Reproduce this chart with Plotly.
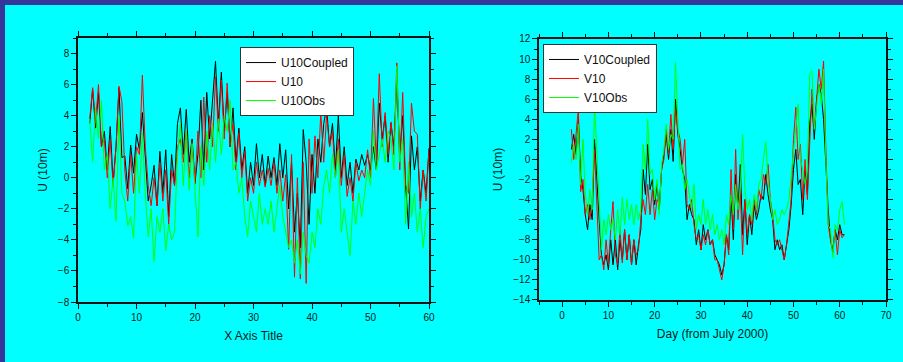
import plotly.graph_objects as go

# ---- data: left panel (U component), two samples per day ----
u_days = [2 + 0.5 * i for i in range(117)]  # 2 .. 60
u10_coupled = [3.5, 5.7, 3.2, 5.5, 2.0, 3.0, 0.5, 3.3, -0.3, 2.0, 5.8, 1.3, 1.4, -0.7, 2.1, 0.3,
               2.8, 1.8, 4.2, 1.0, -1.5, -0.5, 0.8, -1.8, 1.7, -1.0, 1.8, -2.5, 1.5, -0.5, 3.5, 4.5,
               1.5, 4.4, 1.0, 2.5, -0.3, 1.5, 5.0, 0.5, 5.5, 2.5, 5.0, 7.5, 3.5, 6.8, 3.0, 5.5,
               2.0, 4.5, 1.0, 3.2, 0.5, 2.0, -1.0, 1.0, -0.5, 2.2, 0.0, 1.5, -0.5, 1.4, 0.0, 1.3,
               -0.5, 2.2, 0.0, 1.8, -2.0, 1.0, -3.5, -1.0, -4.5, 3.1, 1.0, -3.0, 1.5, -1.0, 2.5, 1.0,
               3.5, 4.5, 2.0, 3.5, 0.5, 4.0, 0.0, 2.0, -0.5, 1.0, -1.0, 1.2, 0.5, 1.5, 0.8, 1.5,
               0.5, 2.0, 0.5, 4.8, 2.5, 4.0, 1.0, 3.5, 2.0, 6.2, 1.5, 4.0, -0.5, -3.3, 2.7, 0.5,
               2.0, -1.5, 0.5, -1.0, 1.9]
u10_model = [3.8, 5.8, 3.5, 6.0, 2.0, 2.5, 0.0, 2.5, -0.5, 2.0, 5.9, 4.9, 0.5, -1.5, 1.5, -1.0,
             2.0, 1.5, 6.6, 2.0, -0.5, -1.8, 0.0, -1.8, 1.0, -1.5, 0.5, -3.0, 0.5, -0.5, 2.0, 2.5,
             1.0, 3.0, 0.0, 2.3, -0.4, 3.0, 0.0, 5.2, 1.0, 4.0, 2.0, 6.5, 3.0, 6.3, 2.5, 6.1,
             2.0, 3.5, 0.5, 2.9, 0.0, 1.7, -1.5, 0.0, -1.0, 1.0, -0.5, 0.5, -0.6, 0.6, -0.5, 1.0,
             -1.0, 0.5, -1.5, 0.2, -4.6, 1.5, -6.4, 0.0, -6.5, 1.0, -6.8, 2.5, -1.0, 2.7, 0.0, 4.2,
             1.0, 4.0, 2.0, 3.0, 0.0, 2.5, -0.5, 1.5, -1.2, 0.0, -1.5, 1.0, -0.2, 0.5, 0.0, 1.8,
             0.0, 5.1, 1.0, 6.7, 2.0, 4.2, 1.5, 3.6, 1.5, 7.4, 0.5, 5.5, -0.5, -1.0, 4.8, 3.0,
             2.8, -2.0, 0.5, -1.5, 1.9]
u10_obs = [3.8, 1.0, 4.5, 2.5, 5.0, 0.5, 1.5, -2.0, 0.0, -2.8, 4.0, -1.0, -1.5, -3.1, -2.5, -3.9,
           1.5, -1.0, 2.9, -1.0, -3.8, -2.0, -5.4, -2.5, -3.5, -2.0, -4.7, -3.0, -4.0, -3.5, 1.5, 3.5,
           -0.5, 3.0, -0.8, 2.2, -0.8, -3.8, 2.0, -0.5, 3.0, 0.5, 3.5, 1.0, 3.8, 1.5, 4.0, 3.0,
           5.0, 0.5, 1.0, -1.0, 0.0, -2.5, -3.8, -1.5, -2.5, -3.5, -1.0, -3.0, -2.0, -3.0, -1.5, -3.5,
           -2.0, -0.5, -2.5, -3.5, -4.5, -4.0, -5.5, -4.0, -6.2, -3.5, -5.0, -5.5, -3.5, -4.5, -2.0, -3.0,
           -0.5, 0.5, -1.0, 1.5, 0.0, 1.8, -3.5, -2.0, -3.5, -5.0, -1.5, -3.0, -1.0, -2.5, -1.0, 0.5,
           -0.5, 3.0, 0.5, 1.5, 2.5, 1.0, 3.0, 2.5, 0.5, 7.2, 1.0, 2.5, -3.0, 1.0, -2.5, -1.0,
           -3.5, -2.0, -4.5, -2.5, -2.0]

# ---- data: right panel (V component), two samples per day ----
v_days = [2 + 0.5 * i for i in range(119)]  # 2 .. 61
v10_coupled = [1.0, 2.5, 0.5, 4.0, -1.5, -3.0, -5.5, -7.0, -4.5, -6.0, 2.0, -2.5, -6.0, -9.5, -10.5, -9.5,
               -11.0, -8.0, -10.5, -8.0, -11.0, -8.0, -10.0, -7.0, -10.0, -7.5, -10.5, -8.0, -10.5, -8.5, -7.0, -1.0,
               -3.5, 1.5, -3.0, -2.0, -4.5, -2.5, -5.0, -1.0, 0.5, 2.5, 0.0, 3.0, -0.2, 6.0, 2.5, 1.0,
               -1.0, -2.0, -6.0, -4.5, -5.5, -6.0, -8.5, -7.0, -9.0, -6.5, -8.0, -7.0, -8.5, -8.0, -9.5, -10.0,
               -10.5, -11.5, -10.5, -7.5, -9.0, -3.5, -8.0, -1.5, -5.0, -0.5, -7.5, -4.0, -8.5, -5.5, -7.5, -4.5,
               -6.0, -5.0, -3.5, -4.0, -1.5, -3.5, -5.0, -6.0, -9.0, -8.0, -9.0, -8.5, -10.0, -8.5, -7.0, -4.5,
               -1.0, 1.0, -2.5, -2.0, -5.5, -1.0, -3.5, 3.5, 5.5, 2.0, 6.0, 7.5, 6.5, 4.0, -1.0, -5.0,
               -8.0, -9.0, -7.0, -8.0, -6.5, -7.5, -7.5]
v10_model = [3.0, 0.0, 2.5, 5.0, -3.2, -2.0, -5.5, -4.5, -6.0, -4.0, 1.0, -4.0, -10.0, -9.5, -11.0, -8.0,
             -10.5, -7.0, -4.2, -9.5, -10.5, -7.0, -10.3, -7.0, -10.0, -7.5, -10.5, -8.0, -9.5, -9.0, -6.0, -4.0,
             -5.5, -2.5, -5.5, -3.0, -6.0, -4.0, -4.5, -1.0, 0.0, 3.0, 0.5, 4.5, 1.0, 5.0, 3.0, 2.0,
             -0.5, 2.0, -4.5, -5.0, -4.0, -6.5, -8.0, -7.5, -9.0, -7.5, -8.5, -7.0, -8.5, -8.0, -10.0, -10.0,
             -11.0, -12.0, -10.5, -7.5, -9.5, -1.0, -7.0, 1.0, -6.0, -3.0, -9.5, -4.0, -7.5, -5.5, -6.5, -4.0,
             -5.5, -3.0, -4.0, -1.5, -2.5, -0.5, -4.0, -5.5, -8.0, -8.5, -8.0, -9.0, -10.0, -8.5, -6.0, -4.0,
             2.0, 5.2, 0.0, 1.5, -4.0, 0.0, -4.0, 1.0, 7.0, 3.0, 6.0, 9.0, 7.0, 9.8, 1.0, -6.5,
             -8.0, -9.3, -7.0, -9.5, -7.0, -7.8, -7.5]
v10_obs = [-0.3, 1.5, 0.0, 3.5, -2.5, 2.0, -3.5, -5.5, -3.0, -5.0, 5.5, 0.5, -3.0, -9.0, -6.0, -7.5,
           -5.5, -7.0, -6.0, -8.0, -5.0, -7.5, -3.8, -6.5, -4.0, -6.0, -4.5, -6.5, -4.5, -6.0, -5.0, 1.5,
           -1.0, 4.0, -1.5, -1.0, -4.0, -2.0, -5.5, -0.5, 1.0, 3.5, 1.0, 2.5, 2.0, 9.7, 4.0, -1.0,
           -0.5, -3.0, -2.0, -3.5, -5.0, -2.5, -7.0, -5.5, -6.5, -4.0, -6.5, -5.0, -7.0, -5.5, -7.5, -6.5,
           -8.0, -7.0, -8.5, -5.5, -6.5, -3.5, -5.5, -2.5, -5.0, -3.0, 2.5, -3.0, -5.0, -4.0, -6.0, -3.5,
           -5.0, -2.5, -2.0, 0.0, 1.8, -2.0, -4.0, -6.0, -5.0, -6.5, -6.0, -5.0, -5.5, -5.0, -4.0, -1.5,
           0.5, 3.0, 5.5, 0.0, -1.0, -2.5, -1.0, 8.5, 8.8, 3.0, 5.0, 7.5, 5.5, 9.0, 0.0, -6.5,
           -7.0, -9.8, -6.5, -7.0, -5.0, -4.2, -6.5]

u_names = ["U10Coupled", "U10", "U10Obs"]
v_names = ["V10Coupled", "V10", "V10Obs"]
colors = ["#000000", "#FF0000", "#00FF00"]

FONT = "Arial, 'Liberation Sans', sans-serif"
TXT = "#0b2222"
CYAN = "#00FFFF"
PURPLE = "#363599"

fig = go.Figure()
for name, ys, c in zip(u_names, [u10_coupled, u10_model, u10_obs], colors):
    fig.add_trace(go.Scatter(x=u_days, y=ys, mode="lines", name=name,
                             line=dict(color=c, width=1), xaxis="x", yaxis="y", legend="legend"))
for name, ys, c in zip(v_names, [v10_coupled, v10_model, v10_obs], colors):
    fig.add_trace(go.Scatter(x=v_days, y=ys, mode="lines", name=name,
                             line=dict(color=c, width=1), xaxis="x2", yaxis="y2", legend="legend2"))

axis_common = dict(showline=True, linecolor="#111111", linewidth=1.5, mirror="ticks",
                   ticks="outside", ticklen=5, tickwidth=1, tickcolor="#111111",
                   showgrid=False, zeroline=False, automargin=False,
                   tickfont=dict(family=FONT, size=10, color=TXT),
                   title_font=dict(family=FONT, size=12, color=TXT))

fig.update_layout(
    width=903, height=362,
    margin=dict(l=0, r=0, t=0, b=0, pad=0, autoexpand=False),
    paper_bgcolor=CYAN, plot_bgcolor=CYAN,
    showlegend=True,
    xaxis=dict(domain=[0.0864, 0.4751], range=[0, 60], dtick=10, anchor="y",
               minor=dict(ticks="outside", dtick=5, ticklen=3, tickcolor="#111111"),
               title=dict(text="X Axis Title", standoff=10), **axis_common),
    yaxis=dict(domain=[0.1657, 0.895], range=[-8, 9], dtick=2, anchor="x",
               minor=dict(ticks="outside", dtick=1, ticklen=3, tickcolor="#111111"),
               title=dict(text="U (10m)", standoff=8), **axis_common),
    xaxis2=dict(domain=[0.5969, 0.9812], range=[-5, 70], dtick=10, anchor="y2",
                minor=dict(ticks="outside", dtick=5, ticklen=3, tickcolor="#111111"),
                title=dict(text="Day (from July 2000)", standoff=10), **axis_common),
    yaxis2=dict(domain=[0.1713, 0.8923], range=[-14, 12], dtick=2, anchor="x2",
                minor=dict(ticks="outside", dtick=1, ticklen=3, tickcolor="#111111"),
                title=dict(text="U (10m)", standoff=8), **axis_common),
    legend=dict(x=0.2658, y=0.870, xanchor="left", yanchor="top",
                bgcolor="white", bordercolor="#333333", borderwidth=1,
                font=dict(family=FONT, size=12, color="#111111"), tracegroupgap=0),
    legend2=dict(x=0.6013, y=0.8785, xanchor="left", yanchor="top",
                 bgcolor="white", bordercolor="#333333", borderwidth=1,
                 font=dict(family=FONT, size=12, color="#111111"), tracegroupgap=0),
    shapes=[
        dict(type="rect", xref="paper", yref="paper", x0=0, x1=1, y0=1 - 5 / 362, y1=1,
             fillcolor=PURPLE, line=dict(width=0), layer="below"),
        dict(type="rect", xref="paper", yref="paper", x0=0, x1=5 / 903, y0=0, y1=1,
             fillcolor=PURPLE, line=dict(width=0), layer="below"),
    ],
)

fig.write_html("out.html", config={"displayModeBar": False},
               post_script="document.body.style.margin='0';document.body.style.padding='0';"
                           "document.body.style.overflow='hidden';")
